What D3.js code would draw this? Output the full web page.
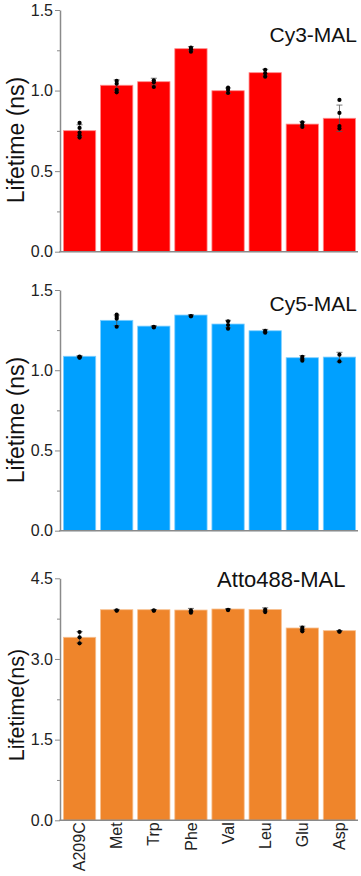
<!DOCTYPE html>
<html>
<head>
<meta charset="utf-8">
<script src="https://cdn.jsdelivr.net/npm/d3@7"></script>
<style>
  body { margin: 0; background: #fff; }
  text { font-family: Arial, "Liberation Sans", sans-serif; }
</style>
</head>
<body>
<svg id="chart" width="361" height="876"></svg>
<script>
const categories = ["A209C", "Met", "Trp", "Phe", "Val", "Leu", "Glu", "Asp"];

const cy3Means = [0.751, 1.033, 1.055, 1.260, 0.999, 1.111, 0.792, 0.828];
const cy3Points = [
  [0.799, 0.768, 0.739, 0.722, 0.708],
  [1.060, 1.043, 1.004, 0.989],
  [1.064, 1.051, 1.022],
  [1.266, 1.256, 1.241],
  [1.018, 1.004, 0.985],
  [1.128, 1.107, 1.086],
  [0.803, 0.788, 0.774],
  [0.942, 0.861, 0.780, 0.764]
];

const cy5Means = [1.087, 1.311, 1.275, 1.344, 1.288, 1.246, 1.078, 1.082];
const cy5Points = [
  [1.085, 1.080, 1.078],
  [1.346, 1.333, 1.321, 1.271],
  [1.267, 1.270],
  [1.336, 1.338],
  [1.305, 1.282, 1.259],
  [1.246, 1.234],
  [1.084, 1.072, 1.059],
  [1.097, 1.055]
];

const attoMeans = [3.403, 3.916, 3.916, 3.910, 3.929, 3.920, 3.576, 3.526];
const attoPoints = [
  [3.501, 3.403, 3.291],
  [3.897, 3.905],
  [3.897, 3.902],
  [3.903, 3.860],
  [3.910, 3.915],
  [3.916, 3.872],
  [3.581, 3.544, 3.514],
  [3.507, 3.512]
];

const smallTicks = [0, 0.5, 1.0, 1.5];
const smallMinor = [0.25, 0.75, 1.25];
const bigTicks = [0, 1.5, 3.0, 4.5];
const bigMinor = [0.75, 2.25, 3.75];

const panels = [
  { title: "Cy3-MAL", ylabel: "Lifetime (ns)", means: cy3Means, points: cy3Points, color: "#ff0000", edge: "#ff8c8c",
    max: 1.5, ticks: smallTicks, minor: smallMinor, top: 10, bottom: 251.7, titleX: 357, titleY: 41.5, labelY: 140, labelSize: 23, showX: false },
  { title: "Cy5-MAL", ylabel: "Lifetime (ns)", means: cy5Means, points: cy5Points, color: "#00a0ff", edge: "#80cfff",
    max: 1.5, ticks: smallTicks, minor: smallMinor, top: 290, bottom: 530.7, titleX: 357, titleY: 311, labelY: 420, labelSize: 23, showX: false },
  { title: "Atto488-MAL", ylabel: "Lifetime(ns)", means: attoMeans, points: attoPoints, color: "#ef852b", edge: "#f7c08f",
    max: 4.5, ticks: bigTicks, minor: bigMinor, top: 578.3, bottom: 820.3, titleX: 345.5, titleY: 587, labelY: 705, labelSize: 21.5, showX: true }
];

var svg = d3.select("#chart");
var axisColor = "#8a8a8a";

var x = d3.scaleBand()
  .domain(categories)
  .range([61, 358])
  .paddingInner(0.13)
  .paddingOuter(0.065);

panels.forEach(p => {
  var y = d3.scaleLinear().domain([0, p.max]).range([p.bottom, p.top]);
  var g = svg.append("g");

  // bars
  g.selectAll(".bar")
    .data(p.means)
    .join("rect")
    .attr("class", "bar")
    .attr("x", (d, i) => x(categories[i]))
    .attr("width", x.bandwidth())
    .attr("y", d => y(d))
    .attr("height", d => y(0) - y(d))
    .attr("fill", p.color)
    .attr("stroke", p.edge)
    .attr("stroke-width", 0.8);

  // error bars (mean +/- sd of the points)
  p.means.forEach((m, i) => {
    var sd = p.points[i].length > 1 ? d3.deviation(p.points[i]) : 0;
    var cx = x(categories[i]) + x.bandwidth() / 2;
    var eg = g.append("g").attr("stroke", "#555").attr("stroke-width", 0.8);
    eg.append("line").attr("x1", cx).attr("x2", cx).attr("y1", y(m + sd)).attr("y2", y(m - sd));
    eg.append("line").attr("x1", cx - 3).attr("x2", cx + 3).attr("y1", y(m + sd)).attr("y2", y(m + sd));
    eg.append("line").attr("x1", cx - 3).attr("x2", cx + 3).attr("y1", y(m - sd)).attr("y2", y(m - sd));
  });

  // points
  p.points.forEach((pts, i) => {
    var cx = x(categories[i]) + x.bandwidth() / 2;
    g.selectAll(null)
      .data(pts)
      .join("circle")
      .attr("cx", cx)
      .attr("cy", d => y(d))
      .attr("r", 2.1)
      .attr("fill", "#000");
  });

  // y axis
  var yAxis = g.append("g")
    .attr("transform", "translate(60,0)")
    .call(d3.axisLeft(y).tickValues(p.ticks).tickFormat(d3.format(".1f")).tickSize(5).tickSizeOuter(0).tickPadding(2));
  yAxis.select(".domain").attr("stroke", axisColor).attr("stroke-width", 1.5);
  yAxis.selectAll(".tick line").attr("stroke", axisColor).attr("stroke-width", 1);
  yAxis.selectAll(".tick text")
    .attr("fill", "#222")
    .style("font-size", "16px");

  var minorAxis = g.append("g")
    .attr("transform", "translate(60,0)")
    .call(d3.axisLeft(y).tickValues(p.minor).tickFormat("").tickSize(3).tickSizeOuter(0));
  minorAxis.select(".domain").remove();
  minorAxis.selectAll(".tick line").attr("stroke", axisColor).attr("stroke-width", 1);

  // x axis
  var xAxis = g.append("g")
    .attr("transform", `translate(0,${p.bottom})`)
    .call(d3.axisBottom(x).tickSize(0).tickSizeOuter(0).tickPadding(3).tickFormat(p.showX ? null : ""));
  xAxis.select(".domain").attr("stroke", axisColor).attr("stroke-width", 1.5)
    .attr("d", `M59.3,0H358`);
  if (p.showX) {
    xAxis.selectAll(".tick text")
      .attr("fill", "#222")
      .style("font-size", "16px")
      .attr("transform", "rotate(-90)")
      .attr("text-anchor", "end")
      .attr("x", -2)
      .attr("y", 0)
      .attr("dy", "0.35em");
  }

  // title
  g.append("text")
    .attr("x", p.titleX)
    .attr("y", p.titleY)
    .attr("text-anchor", "end")
    .attr("fill", "#111")
    .style("font-size", p.title === "Atto488-MAL" ? "22px" : "21px")
    .text(p.title);

  // y axis label
  g.append("text")
    .attr("transform", `translate(16,${p.labelY}) rotate(-90)`)
    .attr("text-anchor", "middle")
    .attr("dy", "0.35em")
    .attr("fill", "#111")
    .style("font-size", p.labelSize + "px")
    .text(p.ylabel);
});
</script>
</body>
</html>
